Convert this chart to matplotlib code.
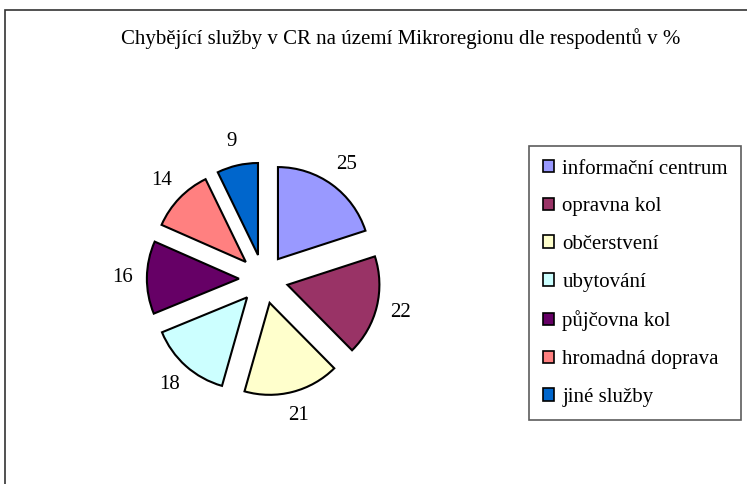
import matplotlib
matplotlib.use("Agg")
import matplotlib.pyplot as plt
from matplotlib.patches import Rectangle, Patch

plt.rcParams["font.family"] = ["Liberation Serif", "DejaVu Serif"]

TITLE = "Chybějící služby v CR na území Mikroregionu dle respodentů v %"
labels = ["informační centrum", "opravna kol", "občerstvení", "ubytování",
          "půjčovna kol", "hromadná doprava", "jiné služby"]
values = [25, 22, 21, 18, 16, 14, 9]
colors = ["#9999FF", "#993366", "#FFFFCC", "#CCFFFF", "#660066", "#FF8080", "#0066CC"]

W, H = 747, 484
FS = 15
fig = plt.figure(figsize=(W / 100, H / 100), dpi=100)
ax = fig.add_axes([0, 0, 1, 1])

R = 92
# explode is in data units here (1 unit = 1 px)
wedges, texts = ax.pie(values, labels=[str(v) for v in values], colors=colors,
                       startangle=90, counterclock=False, radius=R,
                       center=(263.5, H - 279), explode=[24.6] * len(values),
                       labeldistance=1.27, frame=True,
                       wedgeprops=dict(edgecolor="black", linewidth=1.5),
                       textprops=dict(fontsize=FS))
for t in texts:
    t.set_ha("center"); t.set_va("center")
ax.set_xlim(0, W); ax.set_ylim(0, H); ax.set_aspect("equal"); ax.axis("off")

fig.text(401 / W, 1 - 39 / H, TITLE, ha="center", va="center", fontsize=FS)

# outer frame (cut off at right and bottom)
fig.patches.append(Rectangle((5 / W, -0.1), 1.2, 1 - 10 / H + 0.1, transform=fig.transFigure,
                             fill=False, edgecolor="#333333", linewidth=1.2))

handles = [Patch(facecolor=c, edgecolor="black", linewidth=1.2) for c in colors]
leg = fig.legend(handles, labels, loc="upper left", bbox_to_anchor=(529 / W, 1 - 146 / H),
                 frameon=True, fancybox=False, fontsize=FS, labelspacing=0.9,
                 handlelength=0.55, handleheight=0.55, handletextpad=0.4,
                 borderpad=0.65, borderaxespad=0)
leg.get_frame().set_edgecolor("#333333")
leg.get_frame().set_linewidth(1.2)

fig.savefig("out.png", dpi=100)
